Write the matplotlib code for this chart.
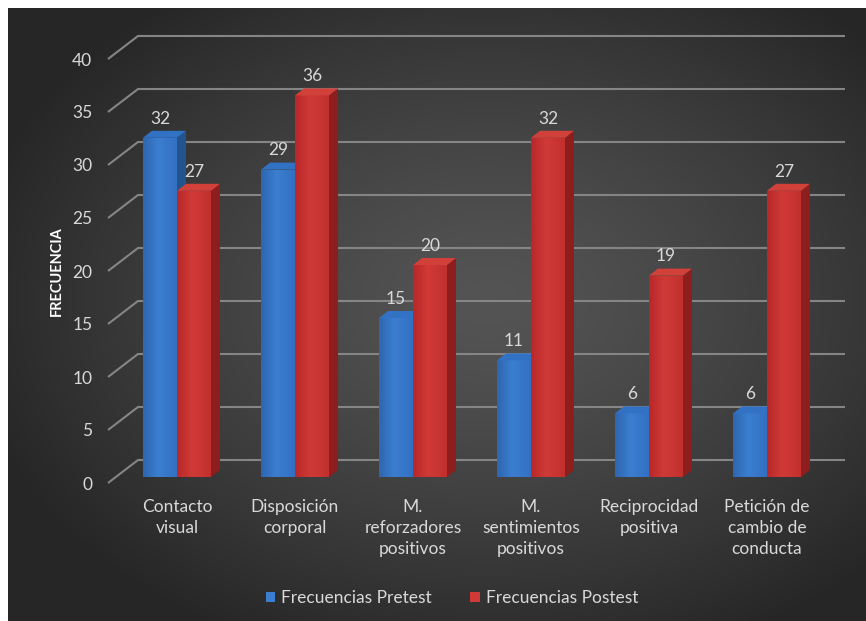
import numpy as np
import matplotlib
matplotlib.use("Agg")
import matplotlib.pyplot as plt
from matplotlib.patches import Polygon, Patch
from matplotlib.transforms import ScaledTranslation

categories = ["Contacto\nvisual", "Disposición\ncorporal", "M.\nreforzadores\npositivos",
              "M.\nsentimientos\npositivos", "Reciprocidad\npositiva", "Petición de\ncambio de\nconducta"]
pretest = [32, 29, 15, 11, 6, 6]
postest = [27, 36, 20, 32, 19, 27]
series_names = ["Frecuencias Pretest", "Frecuencias Postest"]
yticks = [0, 5, 10, 15, 20, 25, 30, 35, 40]

FONT = ["Lato", "DejaVu Sans"]
plt.rcParams['font.family'] = FONT
TXT = "#d9d9d9"

W, H = 866, 621
fig = plt.figure(figsize=(W / 100, H / 100), dpi=100, facecolor="white")

# background radial gradient
bg = fig.add_axes([8 / W, 0, (W - 8) / W, (H - 8) / H], zorder=0)
gx, gy = np.meshgrid(np.linspace(0, 1, 300), np.linspace(0, 1, 220))
r = np.sqrt(((gx - 0.56) / 0.62) ** 2 + ((gy - 0.52) / 0.62) ** 2)
r = np.clip(r, 0, 1)
val = 0.33 - (0.33 - 0.15) * r ** 1.3
img = np.dstack([val, val, val])
bg.imshow(img, aspect="auto", extent=[0, 1, 0, 1], origin="lower", interpolation="bicubic")
bg.set_axis_off()

# main axes (plane of bar front faces)
left_px, right_px, bottom_px, top_px = 116, 823, 477, 53
ax = fig.add_axes([left_px / W, (H - bottom_px) / H, (right_px - left_px) / W, (bottom_px - top_px) / H], zorder=1)
ax.patch.set_alpha(0)
cat_px = 118.0
x0 = (left_px - 177) / cat_px
x1 = x0 + (right_px - left_px) / cat_px
ax.set_xlim(x0, x1)
ax.set_ylim(0, 40)
for s in ax.spines.values():
    s.set_visible(False)

px_x = (x1 - x0) / (right_px - left_px)   # data units per pixel in x
px_y = 40.0 / (bottom_px - top_px)          # data units per pixel in y

# depth offsets (pixels)
bar_dx, bar_dy = 9, 7
back_dx, back_dy = 22, 17
front_dx, front_dy = -8, -6

grid_col = "#858585"
for v in yticks:
    xb0 = x0 + back_dx * px_x
    xb1 = x1 + back_dx * px_x
    yb = v + back_dy * px_y
    xf = x0 + front_dx * px_x
    yf = v + front_dy * px_y
    ax.plot([xf, xb0, xb1], [yf, yb, yb], color=grid_col, lw=1.5, clip_on=False, zorder=1,
            solid_capstyle="butt")

x = np.arange(len(categories))
bw = 34 / cat_px

def draw_series(xpos, vals, front_cols, side_col, top_col, z):
    bars = ax.bar(xpos, vals, bw, color=front_cols[1], zorder=z, linewidth=0)
    grad = np.linspace(0, 1, 64)
    c0 = np.array(matplotlib.colors.to_rgb(front_cols[0]))
    c1 = np.array(matplotlib.colors.to_rgb(front_cols[1]))
    c2 = np.array(matplotlib.colors.to_rgb(front_cols[2]))
    cols = np.array([c0 + (c1 - c0) * (t / 0.45) if t < 0.45 else c1 + (c2 - c1) * ((t - 0.45) / 0.55) for t in grad])
    for b, v in zip(bars, vals):
        bx, bwid = b.get_x(), b.get_width()
        im = ax.imshow(cols[None, :, :], extent=[bx, bx + bwid, 0, v], aspect="auto", zorder=z + 0.1,
                       interpolation="bilinear")
        im.set_clip_path(b)
        ddx, ddy = bar_dx * px_x, bar_dy * px_y
        side = Polygon([[bx + bwid, 0], [bx + bwid + ddx, ddy], [bx + bwid + ddx, v + ddy], [bx + bwid, v]],
                       closed=True, facecolor=side_col, edgecolor="none", zorder=z - 0.05)
        top = Polygon([[bx, v], [bx + bwid, v], [bx + bwid + ddx, v + ddy], [bx + ddx, v + ddy]],
                      closed=True, facecolor=top_col, edgecolor="none", zorder=z + 0.2)
        ax.add_patch(side)
        ax.add_patch(top)
        ax.annotate(str(v), (bx + bwid / 2, v), xytext=(0, 8), textcoords="offset points",
                    ha="center", va="bottom", color=TXT, fontsize=12.5, zorder=10)
    return bars

blue = ["#2e66b0", "#3b7ed0", "#3370c2"]
red = ["#b8282a", "#d03a36", "#c1302e"]
for i in range(len(categories)):
    draw_series([x[i] - bw / 2], [pretest[i]], blue, "#22548f", "#3272c4", 3 + i * 2)
    draw_series([x[i] + bw / 2], [postest[i]], red, "#8e1d1d", "#d2403a", 4 + i * 2)

ax.set_yticks(yticks)
ax.set_yticklabels([str(t) for t in yticks], color=TXT, fontsize=12.5)
ax.tick_params(axis="y", length=0, pad=17)
for lab in ax.get_yticklabels():
    lab.set_transform(lab.get_transform() + ScaledTranslation(0, -6 / 100, fig.dpi_scale_trans))

ax.set_xticks(x)
ax.set_xticklabels(categories, color=TXT, fontsize=12.5, linespacing=1.38)
ax.tick_params(axis="x", length=0, pad=16)

fig.text(57 / W, 1 - 271 / H, "FRECUENCIA", rotation=90, ha="center", va="center",
         color="white", fontsize=10.5, fontweight="bold")

handles = [Patch(facecolor="#3b7ed0", edgecolor="none"), Patch(facecolor="#d03a36", edgecolor="none")]
leg = fig.legend(handles, series_names, loc="center", bbox_to_anchor=(452 / W, 1 - 598 / H), ncol=2,
                 frameon=False, fontsize=12.5, handlelength=0.55, handleheight=0.55, handletextpad=0.35,
                 columnspacing=2.2, labelcolor=TXT)

fig.savefig("out.png", dpi=100, facecolor="white")
